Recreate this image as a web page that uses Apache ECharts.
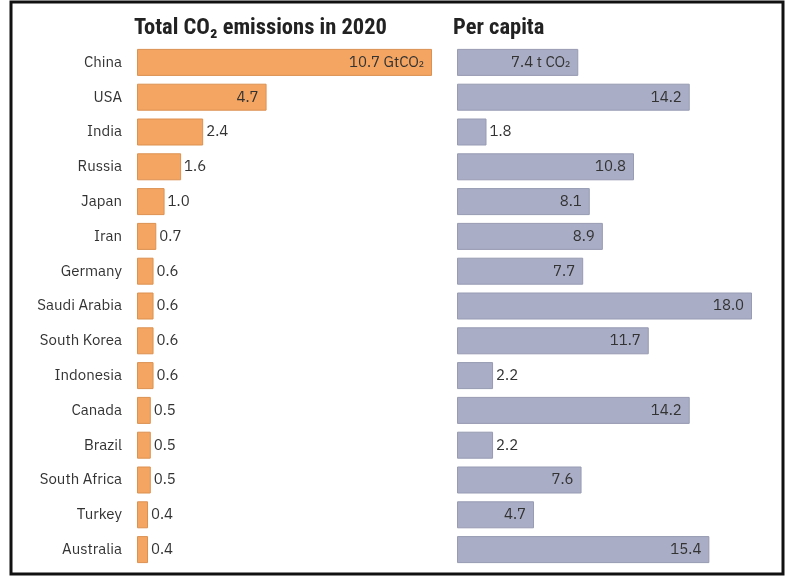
<!DOCTYPE html>
<html>
<head>
<meta charset="utf-8">
<script src="https://cdn.jsdelivr.net/npm/echarts@6/dist/echarts.min.js"></script>
<style>
html, body { margin: 0; padding: 0; background: #fff; }
#chart { width: 786px; height: 576px; }
</style>
</head>
<body>
<div id="chart"></div>
<script>
var countries = ['China', 'USA', 'India', 'Russia', 'Japan', 'Iran', 'Germany', 'Saudi Arabia',
    'South Korea', 'Indonesia', 'Canada', 'Brazil', 'South Africa', 'Turkey', 'Australia'];
var totalEmissions = [10.7, 4.7, 2.4, 1.6, 1.0, 0.7, 0.6, 0.6, 0.6, 0.6, 0.5, 0.5, 0.5, 0.4, 0.4];
var perCapita = [7.4, 14.2, 1.8, 10.8, 8.1, 8.9, 7.7, 18.0, 11.7, 2.2, 14.2, 2.2, 7.6, 4.7, 15.4];

var labelFont = "'IBM Plex Sans', 'Noto Sans', 'DejaVu Sans', sans-serif";
var titleFont = "'Liberation Sans Narrow', 'Roboto Condensed', 'Liberation Sans', sans-serif";

// small bars get the number outside, long ones inside
function buildItems(values, unit) {
    return values.map(function (v, i) {
        var inside = v >= 4;
        return {
            value: v,
            label: {
                position: inside ? 'insideRight' : 'right',
                distance: inside ? 8 : 3,
                formatter: v.toFixed(1) + (i === 0 ? unit : '')
            }
        };
    });
}

var chart = echarts.init(document.getElementById('chart'));

var option = {
    animation: false,
    graphic: [{
        type: 'rect',
        shape: { x: 11, y: 2, width: 772, height: 572 },
        style: { fill: 'none', stroke: '#111', lineWidth: 3 }
    }],
    title: [
        {
            text: 'Total CO\u2082 emissions in 2020',
            left: 129, top: 12,
            textStyle: { fontFamily: titleFont, fontSize: 22.5, fontWeight: 'bold', color: '#222' }
        },
        {
            text: 'Per capita',
            left: 448, top: 12,
            textStyle: { fontFamily: titleFont, fontSize: 22.5, fontWeight: 'bold', color: '#222' }
        }
    ],
    grid: [
        { left: 137, top: 45, width: 295, height: 522 },
        { left: 457, top: 45, width: 295, height: 522 }
    ],
    xAxis: [
        { gridIndex: 0, type: 'value', min: 0, max: 10.7, show: false },
        { gridIndex: 1, type: 'value', min: 0, max: 18, show: false }
    ],
    yAxis: [
        {
            gridIndex: 0, type: 'category', data: countries, inverse: true,
            axisLine: { show: false }, axisTick: { show: false },
            axisLabel: { margin: 15, fontSize: 15, color: '#333', fontFamily: labelFont }
        },
        {
            gridIndex: 1, type: 'category', data: countries, inverse: true,
            axisLine: { show: false }, axisTick: { show: false }, axisLabel: { show: false }
        }
    ],
    series: [
        {
            name: 'Total',
            type: 'bar',
            xAxisIndex: 0, yAxisIndex: 0,
            barWidth: 27,
            itemStyle: { color: '#f4a562', borderColor: '#dc9151', borderWidth: 1 },
            label: { show: true, fontSize: 15, color: '#333', fontFamily: labelFont },
            data: buildItems(totalEmissions, ' GtCO\u2082')
        },
        {
            name: 'Per capita',
            type: 'bar',
            xAxisIndex: 1, yAxisIndex: 1,
            barWidth: 27,
            itemStyle: { color: '#a9adc5', borderColor: '#979bb3', borderWidth: 1 },
            label: { show: true, fontSize: 15, color: '#333', fontFamily: labelFont },
            data: buildItems(perCapita, ' t CO\u2082')
        }
    ]
};

chart.setOption(option);
</script>
</body>
</html>
